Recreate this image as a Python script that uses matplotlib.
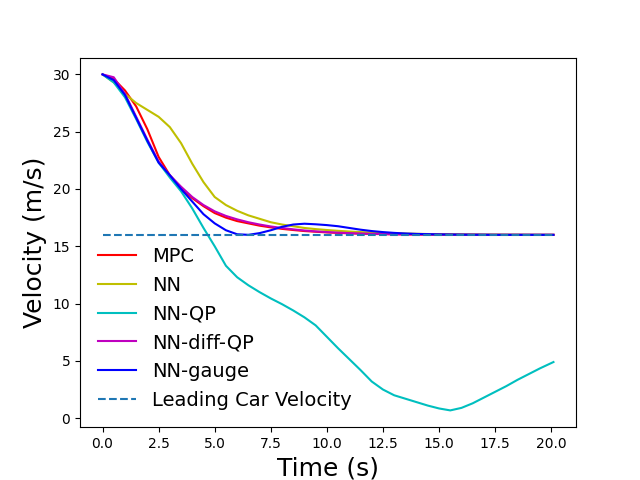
import numpy as np
import matplotlib
matplotlib.use("Agg")
import matplotlib.pyplot as plt

t = [0, 0.5, 1, 1.5, 2, 2.5, 3, 3.5, 4, 4.5, 5, 5.5, 6, 6.5, 7, 7.5, 8, 8.5, 9, 9.5,
     10, 10.5, 11, 11.5, 12, 12.5, 13, 13.5, 14, 14.5, 15, 15.5, 16, 16.5, 17, 17.5,
     18, 18.5, 19, 19.5, 20.1]

mpc = [30, 29.6, 28.6, 27.2, 25.2, 22.8, 21.2, 20.1, 19.2, 18.5, 17.9, 17.5, 17.2, 17.0,
       16.8, 16.65, 16.52, 16.42, 16.33, 16.27, 16.21, 16.17, 16.13, 16.1, 16.08, 16.06,
       16.05, 16.04, 16.03, 16.02, 16.02, 16.01, 16.01, 16.01, 16.0, 16.0, 16.0, 16.0,
       16.0, 16.0, 16.0]
nn = [30, 29.3, 28.3, 27.5, 26.9, 26.3, 25.4, 24.0, 22.2, 20.6, 19.3, 18.6, 18.1, 17.7,
      17.4, 17.1, 16.9, 16.75, 16.6, 16.5, 16.42, 16.35, 16.29, 16.24, 16.2, 16.16, 16.13,
      16.11, 16.09, 16.07, 16.06, 16.05, 16.04, 16.03, 16.02, 16.02, 16.01, 16.01, 16.0,
      16.0, 16.0]
nn_qp = [30, 29.3, 28.0, 26.1, 24.1, 22.3, 21.0, 19.8, 18.3, 16.6, 15.0, 13.3, 12.3, 11.6,
         11.0, 10.45, 9.95, 9.4, 8.8, 8.1, 7.1, 6.1, 5.15, 4.2, 3.2, 2.5, 2.0, 1.7, 1.4,
         1.1, 0.85, 0.68, 0.9, 1.3, 1.8, 2.3, 2.8, 3.35, 3.85, 4.35, 4.9]
nn_diff_qp = [30, 29.75, 28.3, 26.3, 24.3, 22.4, 21.2, 20.2, 19.3, 18.6, 18.05, 17.65,
              17.35, 17.1, 16.9, 16.73, 16.6, 16.48, 16.38, 16.3, 16.24, 16.19, 16.15,
              16.12, 16.09, 16.07, 16.05, 16.04, 16.03, 16.02, 16.02, 16.01, 16.01, 16.01,
              16.0, 16.0, 16.0, 16.0, 16.0, 16.0, 16.0]
nn_gauge = [30, 29.5, 28.2, 26.2, 24.2, 22.3, 21.2, 20.0, 18.9, 17.8, 17.0, 16.4, 16.05,
            16.0, 16.15, 16.4, 16.7, 16.9, 16.97, 16.92, 16.85, 16.75, 16.6, 16.45, 16.33,
            16.24, 16.17, 16.12, 16.08, 16.06, 16.04, 16.03, 16.02, 16.01, 16.01, 16.0,
            16.0, 16.0, 16.0, 16.0, 16.0]
lead_v = 16.0

fig, ax = plt.subplots(figsize=(6.4, 4.8), dpi=100)
ax.plot(t, mpc, color="r", label="MPC")
ax.plot(t, nn, color="y", label="NN")
ax.plot(t, nn_qp, color="c", label="NN-QP")
ax.plot(t, nn_diff_qp, color="m", label="NN-diff-QP")
ax.plot(t, nn_gauge, color="b", label="NN-gauge")
ax.plot([t[0], t[-1]], [lead_v, lead_v], "--", label="Leading Car Velocity")
ax.set_xlabel("Time (s)", fontsize=18)
ax.set_ylabel("Velocity (m/s)", fontsize=18)
ax.legend(loc="lower left", frameon=False, fontsize=14)
fig.savefig("out.png", dpi=100)
